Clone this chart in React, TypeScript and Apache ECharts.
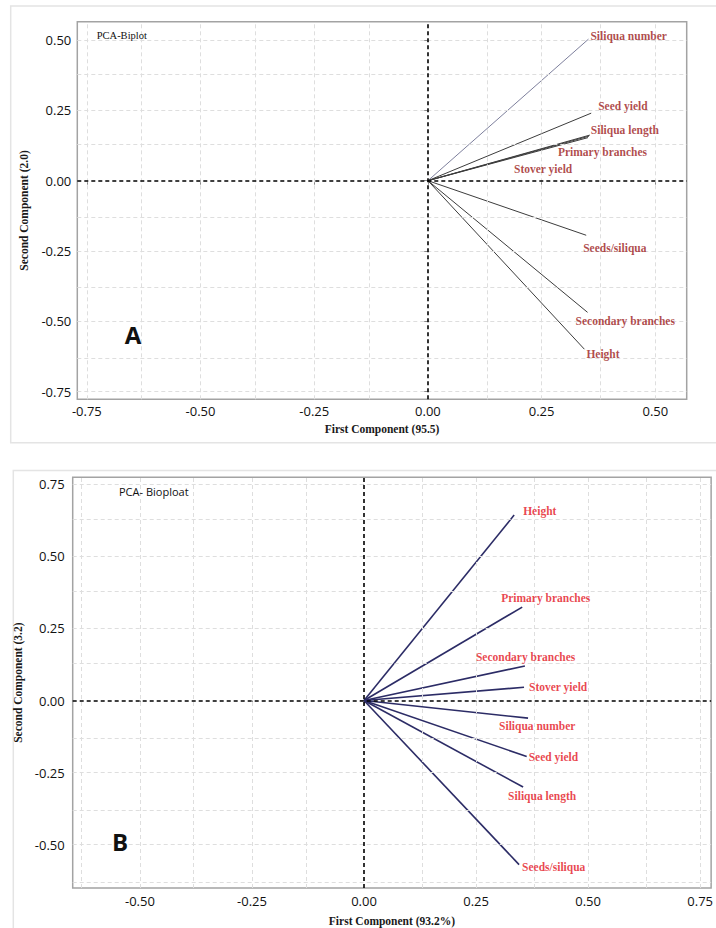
import React, { useEffect, useRef } from "react";
import * as echarts from "echarts";

// ---------- Panel A data ----------
const variablesA = [
  "Siliqua number",
  "Seed yield",
  "Siliqua length",
  "Primary branches",
  "Stover yield",
  "Seeds/siliqua",
  "Secondary branches",
  "Height",
];
const pc1A = [0.353, 0.359, 0.356, 0.354, 0.352, 0.348, 0.351, 0.344];
const pc2A = [0.503, 0.24, 0.162, 0.158, 0.153, -0.194, -0.468, -0.599];

// ---------- Panel B data ----------
const variablesB = [
  "Height",
  "Primary branches",
  "Secondary branches",
  "Stover yield",
  "Siliqua number",
  "Seed yield",
  "Siliqua length",
  "Seeds/siliqua",
];
const pc1B = [0.335, 0.353, 0.359, 0.357, 0.366, 0.363, 0.355, 0.346];
const pc2B = [0.643, 0.324, 0.12, 0.046, -0.061, -0.194, -0.3, -0.569];

// ---------- tick labels / grid values ----------
const ticksAx = [-0.75, -0.5, -0.25, 0, 0.25, 0.5];
const ticksAy = [-0.75, -0.5, -0.25, 0, 0.25, 0.5];
const ticksBx = [-0.5, -0.25, 0, 0.25, 0.5, 0.75];
const ticksBy = [-0.5, -0.25, 0, 0.25, 0.5, 0.75];
const gridLinesA = [-0.75, -0.625, -0.5, -0.375, -0.25, -0.125, 0.125, 0.25, 0.375, 0.5];
const gridLinesB = [-0.625, -0.5, -0.375, -0.25, -0.125, 0.125, 0.25, 0.375, 0.5, 0.625, 0.75];

const titleA = { x: "First Component (95.5)", y: "Second Component (2.0)", note: "PCA-Biplot", tag: "A" };
const titleB = { x: "First Component (93.2%)", y: "Second Component (3.2)", note: "PCA- Bioploat", tag: "B" };

// label offsets in pixels (styling)
const labelOffsetA = [[2, -3], [7, -7], [1, -5], [-31, 16], [-74, 31], [-3, 13], [-12, 9], [2, 5]];
const labelOffsetB = [[9, -4], [-21, -9], [-49, -9], [5, 0], [-29, 8], [2, 1], [-15, 9], [3, 2]];

const SERIF = "'Liberation Serif', 'Times New Roman', serif";
const SANS = "'Open Sans', 'Noto Sans', sans-serif";

function fmt(v: number) {
  return v.toFixed(2);
}

function makeAxis(gridIndex: number, min: number, max: number, ticks: number[], name: string, isX: boolean, nameGap: number, margin: number) {
  return {
    gridIndex,
    type: "value",
    min,
    max,
    splitLine: { show: false },
    axisLine: { show: false },
    axisTick: { show: true, customValues: ticks, length: 4, lineStyle: { color: "#8a8a8a", width: 1 } },
    axisLabel: {
      customValues: ticks,
      formatter: fmt,
      margin,
      fontFamily: SANS,
      fontSize: 13,
      color: "#111",
    },
    name,
    nameLocation: "middle",
    nameGap,
    nameRotate: isX ? 0 : 90,
    nameTextStyle: { fontFamily: SERIF, fontWeight: "bold", fontSize: 11.5, color: "#1a1a1a" },
  };
}

function panelSeries(
  idx: number,
  names: string[],
  xs: number[],
  ys: number[],
  gridVals: number[],
  offsets: number[][],
  lineColor: (i: number) => string,
  lineWidth: number,
  labelColor: string
) {
  const series: any[] = [];
  // background grid lines
  series.push({
    type: "line",
    xAxisIndex: idx,
    yAxisIndex: idx,
    data: [],
    silent: true,
    z: 1,
    markLine: {
      silent: true,
      symbol: "none",
      label: { show: false },
      lineStyle: { color: "#dedede", type: [4, 3], width: 1 },
      data: [
        ...gridVals.map((v) => ({ xAxis: v })),
        ...gridVals.map((v) => ({ yAxis: v })),
      ],
    },
  });
  // vectors
  names.forEach((n, i) => {
    series.push({
      type: "line",
      name: n,
      xAxisIndex: idx,
      yAxisIndex: idx,
      data: [
        [0, 0],
        [xs[i], ys[i]],
      ],
      symbol: "none",
      z: 3,
      lineStyle: { color: lineColor(i), width: lineWidth },
    });
  });
  // zero lines
  series.push({
    type: "line",
    xAxisIndex: idx,
    yAxisIndex: idx,
    data: [],
    silent: true,
    z: 4,
    markLine: {
      silent: true,
      symbol: "none",
      label: { show: false },
      lineStyle: { color: "#000", type: [4, 3], width: 1.6 },
      data: [{ xAxis: 0 }, { yAxis: 0 }],
    },
  });
  // labels
  series.push({
    type: "scatter",
    xAxisIndex: idx,
    yAxisIndex: idx,
    symbolSize: 0,
    z: 5,
    data: names.map((n, i) => ({
      value: [xs[i], ys[i]],
      name: n,
      label: {
        show: true,
        position: "inside",
        align: "left",
        verticalAlign: "middle",
        offset: offsets[i],
        formatter: n,
        fontFamily: SERIF,
        fontWeight: "bold",
        fontSize: 11.5,
        color: labelColor,
      },
    })),
  });
  return series;
}

export default function App() {
  const ref = useRef<HTMLDivElement>(null);
  useEffect(() => {
    if (!ref.current) return;
    const chart = echarts.init(ref.current, null, { renderer: "svg" });
    const option: any = {
      animation: false,
      backgroundColor: "#fff",
      grid: [
        { left: 77.3, top: 21.7, width: 609.4, height: 377.6, show: true, borderColor: "#a3a3a3", borderWidth: 1.5, containLabel: false },
        { left: 72.7, top: 477.3, width: 642.3, height: 411, show: true, borderColor: "#a3a3a3", borderWidth: 1.5, containLabel: false },
      ],
      xAxis: [
        makeAxis(0, -0.771, 0.569, ticksAx, titleA.x, true, 24, 5),
        makeAxis(1, -0.65, 0.7745, ticksBx, titleB.x, true, 27, 6),
      ],
      yAxis: [
        makeAxis(0, -0.777, 0.565, ticksAy, titleA.y, false, 47, 6),
        makeAxis(1, -0.65, 0.774, ticksBy, titleB.y, false, 47, 8),
      ],
      series: [
        ...panelSeries(0, variablesA, pc1A, pc2A, gridLinesA, labelOffsetA, (i) => (i === 0 ? "#7d7f9c" : "#3c3c3c"), 1, "#9c1a1a"),
        ...panelSeries(1, variablesB, pc1B, pc2B, gridLinesB, labelOffsetB, () => "#2c2c66", 1.6, "#e3141e"),
      ],
      graphic: [
        { type: "rect", shape: { x: 10.7, y: 6, width: 710, height: 436.7 }, style: { fill: "none", stroke: "#e4e4e4", lineWidth: 1.5 }, z: 0 },
        { type: "rect", shape: { x: 13.3, y: 470.5, width: 710, height: 470 }, style: { fill: "none", stroke: "#e4e4e4", lineWidth: 1.5 }, z: 0 },
        { type: "text", x: 96.7, y: 35, style: { text: titleA.note, font: `10.5px ${SERIF}`, fill: "#111", verticalAlign: "middle", align: "left" }, z: 10 },
        { type: "text", x: 119, y: 491.7, style: { text: titleB.note, font: `11px ${SANS}`, fill: "#111", verticalAlign: "middle", align: "left" }, z: 10 },
        { type: "text", x: 133, y: 334, style: { text: titleA.tag, font: `bold 24px ${SANS}`, fill: "#111", verticalAlign: "middle", align: "center" }, z: 10 },
        { type: "text", x: 120, y: 841, style: { text: titleB.tag, font: `bold 24px ${SANS}`, fill: "#111", verticalAlign: "middle", align: "center" }, z: 10 },
      ],
    };
    chart.setOption(option);
    return () => chart.dispose();
  }, []);
  return <div ref={ref} style={{ position: "absolute", left: 0, top: 0, width: 716, height: 928 }} />;
}
